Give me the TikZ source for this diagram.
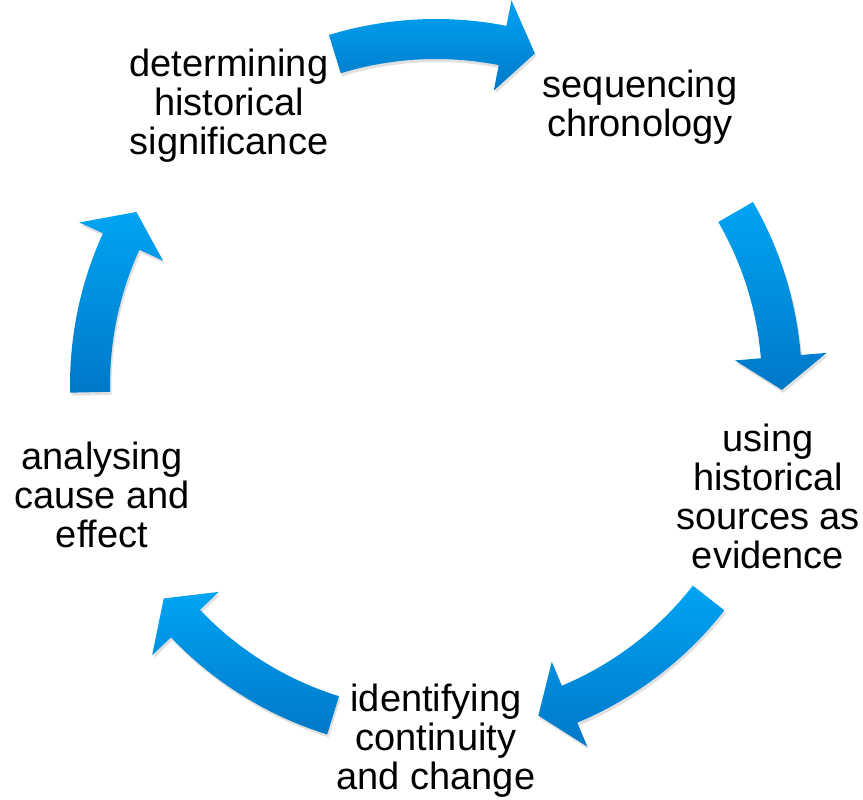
\documentclass[tikz,border=0pt]{standalone}
\usepackage{fontspec}
\setmainfont{Liberation Sans}
\definecolor{arrtop}{RGB}{0,164,243}
\definecolor{arrbot}{RGB}{0,120,200}
\tikzset{
  lbl/.style={align=center, inner sep=0pt, font=\fontsize{38}{39}\selectfont, text=black},
  arrshadow/.style={fill=black, opacity=0.12},
  arrfill/.style={top color=arrtop, bottom color=arrbot, draw=none}
}
% #1 = tail angle, #2 = tip angle (clockwise); centre of the cycle (436,415)
\newcommand{\cycarrow}[2]{%
  \pgfmathsetmacro{\hb}{#2+5.5}%
  \fill[arrshadow] ([shift={(437.5,412)}]#1:366) arc[start angle=#1, end angle=\hb, radius=366]
    -- ([shift={(437.5,412)}]\hb:392) -- ([shift={(437.5,412)}]#2:346)
    -- ([shift={(437.5,412)}]\hb:300) -- ([shift={(437.5,412)}]\hb:326)
    arc[start angle=\hb, end angle=#1, radius=326] -- cycle;
  \shade[arrfill] ([shift={(436,415)}]#1:366) arc[start angle=#1, end angle=\hb, radius=366]
    -- ([shift={(436,415)}]\hb:392) -- ([shift={(436,415)}]#2:346)
    -- ([shift={(436,415)}]\hb:300) -- ([shift={(436,415)}]\hb:326)
    arc[start angle=\hb, end angle=#1, radius=326] -- cycle;
}
\begin{document}
\begin{tikzpicture}[x=1pt,y=1pt]
\useasboundingbox (0,0) rectangle (863,800);
\coordinate (c) at (436,415);
\cycarrow{107}{73.4}
\cycarrow{30}{-0.8}
\cycarrow{-38}{-72.8}
\cycarrow{-107.3}{-141.9}
\cycarrow{181.2}{150}
\node[lbl] (sig) at (229,694) {determining\\historical\\significance};
\node[lbl] (chr) at (640,693) {sequencing\\chronology};
\node[lbl] (evi) at (768,304) {using\\historical\\sources as\\evidence};
\node[lbl] (con) at (436,59) {identifying\\continuity\\and change};
\node[lbl] (cau) at (102,305) {analysing\\cause and\\effect};
\end{tikzpicture}
\end{document}
